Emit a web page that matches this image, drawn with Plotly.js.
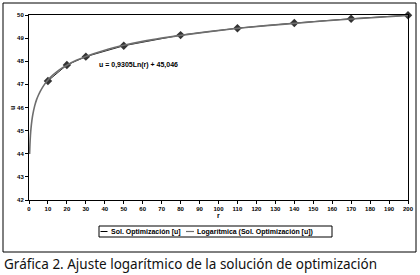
<!DOCTYPE html>
<html><head><meta charset="utf-8">
<script src="https://cdn.plot.ly/plotly-3.0.1.min.js"></script>
<style>html,body{margin:0;padding:0;background:#fff;}#chart{width:420px;height:275px;}</style>
</head><body><div id="chart"></div>
<script>
// Data series: optimization solution u vs r
const rValues = [10, 20, 30, 50, 80, 110, 140, 170, 200];
const uValues = [47.15, 47.84, 48.20, 48.67, 49.13, 49.43, 49.65, 49.84, 49.99];
// Logarithmic trendline
const trendR = [0.32, 0.5, 0.75, 1, 1.5, 2, 3, 4, 5, 6, 8, 10, 13, 16, 20, 25, 30, 40, 50, 60, 70, 80, 95, 110, 125, 140, 155, 170, 185, 200];
const trendU = [43.99, 44.40, 44.78, 45.05, 45.42, 45.69, 46.07, 46.34, 46.54, 46.71, 46.98, 47.19, 47.43, 47.63, 47.83, 48.04, 48.21, 48.48, 48.69, 48.86, 49.00, 49.12, 49.28, 49.42, 49.54, 49.64, 49.74, 49.83, 49.90, 49.98];
const seriesNames = ['Sol. Optimización [u]', 'Logarítmica (Sol. Optimización [u])'];
const equationText = 'u = 0,9305Ln(r) + 45,046';
const captionText = 'Gráfica 2. Ajuste logarítmico de la solución de optimización';

const W = 420, H = 275;
const L = 29, R = 408, T = 15, B = 200;
const px = x => (x - L) / (R - L);
const py = y => (B - y) / (B - T);

const fnt = {family: 'Liberation Sans, Arial, sans-serif', size: 7, color: '#000', weight: 'bold'};

const traces = [
  {x: rValues, y: uValues, type: 'scatter', mode: 'lines+markers', name: seriesNames[0],
   line: {color: '#222', width: 1}, marker: {symbol: 'diamond', size: 6.5, color: '#333'}, cliponaxis: false},
  {x: trendR, y: trendU, type: 'scatter', mode: 'lines', name: seriesNames[1],
   line: {color: '#6e6e6e', width: 1.6, shape: 'spline'}, cliponaxis: false}
];

const layout = {
  width: W, height: H,
  margin: {l: L, r: W - R, t: T, b: H - B, pad: 0},
  paper_bgcolor: '#fff', plot_bgcolor: '#fff',
  showlegend: false,
  font: {family: 'Liberation Sans, Arial, sans-serif', size: 7, color: '#000'},
  xaxis: {range: [0, 200], dtick: 10, tick0: 0, showgrid: false, zeroline: false,
    showline: true, linecolor: '#000', linewidth: 1, mirror: true,
    ticks: 'outside', ticklen: 3, tickcolor: '#000', tickfont: {family: fnt.family, size: 6, weight: 'bold', color: '#000'}},
  yaxis: {range: [42, 50], dtick: 1, tick0: 42, showgrid: false, zeroline: false,
    showline: true, linecolor: '#000', linewidth: 1, mirror: true,
    ticks: 'outside', ticklen: 3, tickcolor: '#000', tickfont: {family: fnt.family, size: 6, weight: 'bold', color: '#000'}},
  shapes: [
    {type: 'rect', xref: 'paper', yref: 'paper', x0: px(3), x1: px(416), y0: py(252), y1: py(3), line: {color: '#000', width: 1}},
    {type: 'rect', xref: 'paper', yref: 'paper', x0: px(99), x1: px(332), y0: py(237), y1: py(226), line: {color: '#000', width: 1}},
    {type: 'line', xref: 'paper', yref: 'paper', x0: px(100.5), x1: px(107.5), y0: py(231.5), y1: py(231.5), line: {color: '#000', width: 1}},
    {type: 'line', xref: 'paper', yref: 'paper', x0: px(186), x1: px(194), y0: py(231.5), y1: py(231.5), line: {color: '#6e6e6e', width: 1.2}}
  ],
  annotations: [
    {text: equationText, xref: 'paper', yref: 'paper', x: px(138), y: py(65), showarrow: false, xanchor: 'center', yanchor: 'middle', font: fnt},
    {text: 'u', xref: 'paper', yref: 'paper', x: px(12), y: py(108), showarrow: false, textangle: -90, xanchor: 'center', yanchor: 'middle', font: fnt},
    {text: 'r', xref: 'paper', yref: 'paper', x: px(218), y: py(215), showarrow: false, xanchor: 'center', yanchor: 'middle', font: fnt},
    {text: seriesNames[0], xref: 'paper', yref: 'paper', x: px(108.5), y: py(231.5), showarrow: false, xanchor: 'left', yanchor: 'middle', font: fnt},
    {text: seriesNames[1], xref: 'paper', yref: 'paper', x: px(195), y: py(231.5), showarrow: false, xanchor: 'left', yanchor: 'middle', font: fnt},
    {text: captionText, xref: 'paper', yref: 'paper', x: px(2), y: py(264), showarrow: false, xanchor: 'left', yanchor: 'middle',
     font: {family: 'Noto Sans, DejaVu Sans, sans-serif', size: 13.5, color: '#111', weight: 'normal'}}
  ]
};

Plotly.newPlot('chart', traces, layout, {displayModeBar: false, staticPlot: true});
</script></body></html>
